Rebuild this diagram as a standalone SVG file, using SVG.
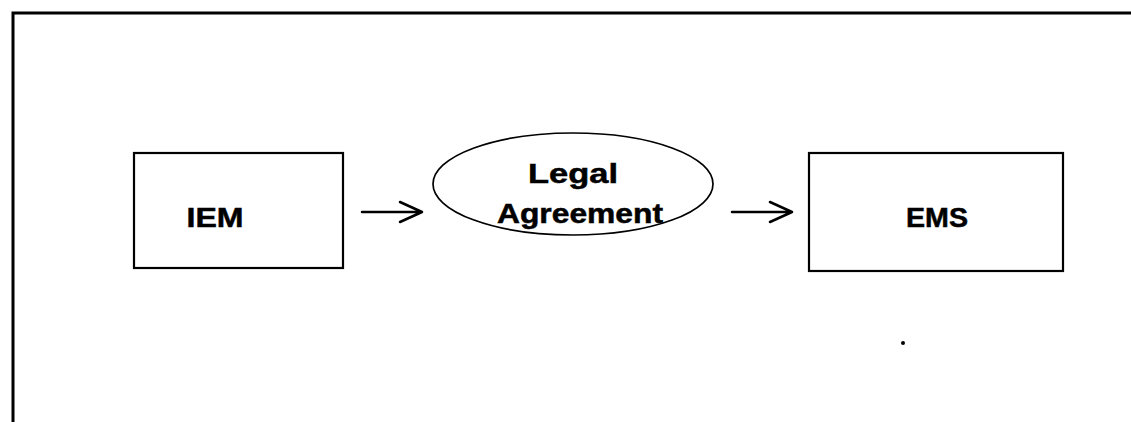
<svg xmlns="http://www.w3.org/2000/svg" width="1131" height="422" viewBox="0 0 1131 422">
  <style>
    .frame { fill: none; stroke: #000; stroke-width: 3; }
    .box { fill: #fff; stroke: #000; stroke-width: 2.2; }
    .oval { fill: #fff; stroke: #000; stroke-width: 1.7; }
    .label { font-family: "Liberation Sans", Arial, sans-serif; font-weight: bold; font-size: 27px; fill: #000; text-anchor: middle; stroke: #000; stroke-width: 0.5; }
    .conn { fill: none; stroke: #000; stroke-width: 2.5; stroke-linecap: round; stroke-linejoin: round; }
  </style>
  <rect width="1131" height="422" fill="#fff"/>

  <!-- outer frame: top and left edges -->
  <path class="frame" d="M13 422 V13 H1131"/>

  <g id="node-iem">
    <rect class="box" x="134" y="153" width="209" height="115"/>
    <text class="label" x="215" y="227" textLength="57" lengthAdjust="spacingAndGlyphs">IEM</text>
  </g>

  <g id="node-legal-agreement">
    <ellipse class="oval" cx="573" cy="184" rx="140" ry="51"/>
    <text class="label" x="573" y="183" textLength="90" lengthAdjust="spacingAndGlyphs">Legal</text>
    <text class="label" x="580" y="223" textLength="166" lengthAdjust="spacingAndGlyphs">Agreement</text>
  </g>

  <g id="node-ems">
    <rect class="box" x="809" y="153" width="254" height="118"/>
    <text class="label" x="937" y="227" textLength="62" lengthAdjust="spacingAndGlyphs">EMS</text>
  </g>

  <g id="connectors">
    <path class="conn" d="M362 212 H422 M400 202 L422 212 L400 222"/>
    <path class="conn" d="M732 212 H792 M770 202 L792 212 L770 222"/>
  </g>

  <circle cx="903" cy="343" r="2" fill="#000"/>
</svg>
